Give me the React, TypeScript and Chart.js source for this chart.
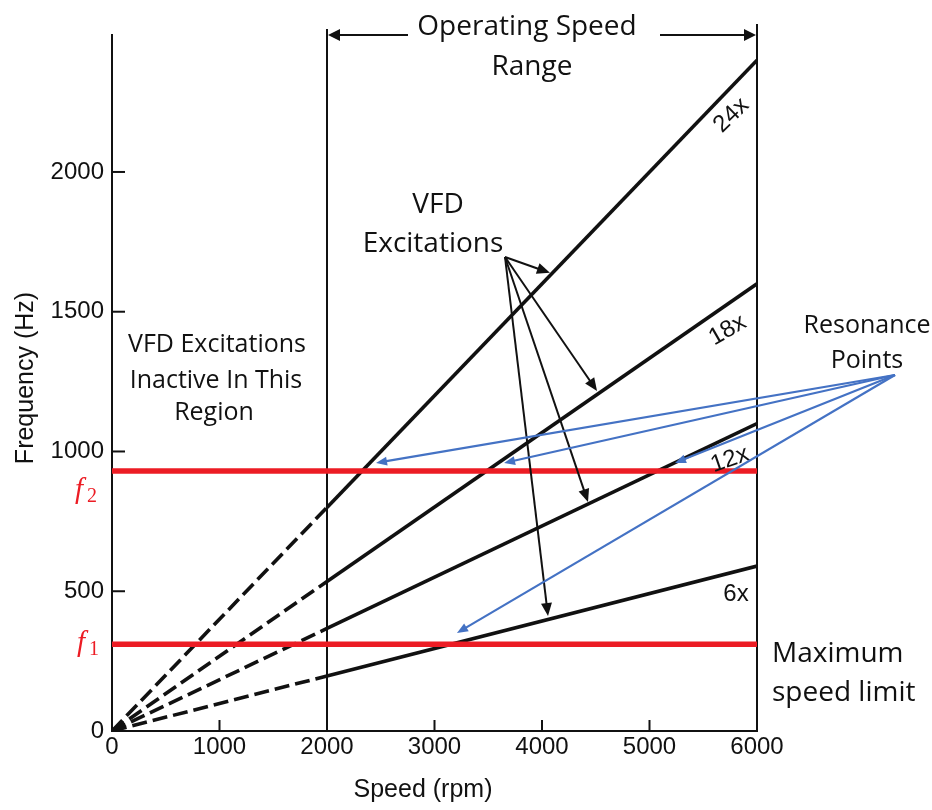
import React, { useEffect, useRef } from 'react';
import { Chart, registerables } from 'chart.js';

Chart.register(...registerables);

// ---- data ----
const speedRpm = [0, 2000, 6000];
const freq24x = [0, 800, 2400];
const freq18x = [0, 535, 1600];
const freq12x = [0, 367, 1100];
const freq6x = [0, 197, 590];
const orderLabels = ['24x', '18x', '12x', '6x'];
const f2Hz = 930;
const f1Hz = 310;
const operatingRange = [2000, 6000];
const xTickValues = [0, 1000, 2000, 3000, 4000, 5000, 6000];
const yTickValues = [0, 500, 1000, 1500, 2000];
// arrow tips (speed rpm, frequency Hz)
const vfdArrowTips = [
  { x: 4074, y: 1639 },
  { x: 4512, y: 1216 },
  { x: 4428, y: 819 },
  { x: 4056, y: 411 },
];
const resonanceArrowTips = [
  { x: 2456, y: 959 },
  { x: 3647, y: 959 },
  { x: 5237, y: 959 },
  { x: 3209, y: 351 },
];

const BLACK = '#111111';
const RED = '#ec1c24';
const BLUE = '#4472c4';
const SCAN_FONT = '"Liberation Sans", Arial, sans-serif';
const NOTE_FONT = '"Open Sans", "Noto Sans", sans-serif';

function toPoints(vals: number[]) {
  return speedRpm.map((x, i) => ({ x, y: vals[i] }));
}

function drawArrow(ctx: CanvasRenderingContext2D, x1: number, y1: number, x2: number, y2: number, color: string, lw: number, hl: number, hw: number) {
  const a = Math.atan2(y2 - y1, x2 - x1);
  const bx = x2 - Math.cos(a) * hl;
  const by = y2 - Math.sin(a) * hl;
  ctx.strokeStyle = color;
  ctx.fillStyle = color;
  ctx.lineWidth = lw;
  ctx.beginPath();
  ctx.moveTo(x1, y1);
  ctx.lineTo(bx + Math.cos(a) * 2, by + Math.sin(a) * 2);
  ctx.stroke();
  ctx.beginPath();
  ctx.moveTo(x2, y2);
  ctx.lineTo(bx - Math.sin(a) * hw, by + Math.cos(a) * hw);
  ctx.lineTo(bx + Math.sin(a) * hw, by - Math.cos(a) * hw);
  ctx.closePath();
  ctx.fill();
}

function text(ctx: CanvasRenderingContext2D, s: string, x: number, y: number, font: string, align: CanvasTextAlign = 'center', color = BLACK, rot = 0) {
  ctx.save();
  ctx.translate(x, y);
  if (rot) ctx.rotate((rot * Math.PI) / 180);
  ctx.font = font;
  ctx.fillStyle = color;
  ctx.textAlign = align;
  ctx.textBaseline = 'alphabetic';
  ctx.fillText(s, 0, 0);
  ctx.restore();
}

const annotationPlugin = {
  id: 'annotations',
  beforeDatasetsDraw(chart: any) {
    const { ctx, chartArea: ca } = chart;
    const x = chart.scales.x;
    const y = chart.scales.y;
    ctx.save();
    ctx.strokeStyle = BLACK;
    ctx.lineWidth = 2;
    const tops = [29, 24];
    operatingRange.forEach((v, i) => {
      const px = x.getPixelForValue(v);
      ctx.beginPath();
      ctx.moveTo(px, ca.bottom);
      ctx.lineTo(px, tops[i]);
      ctx.stroke();
    });
    yTickValues.forEach((v) => {
      if (v === 0) return;
      const py = y.getPixelForValue(v);
      ctx.beginPath();
      ctx.moveTo(ca.left, py);
      ctx.lineTo(ca.left + 13, py);
      ctx.stroke();
    });
    xTickValues.forEach((v) => {
      if (v === 0) return;
      const px = x.getPixelForValue(v);
      ctx.beginPath();
      ctx.moveTo(px, ca.bottom);
      ctx.lineTo(px, ca.bottom - 11);
      ctx.stroke();
    });
    ctx.restore();
  },
  afterDraw(chart: any) {
    const { ctx } = chart;
    const x = chart.scales.x;
    const y = chart.scales.y;
    ctx.save();

    // axis titles
    text(ctx, 'Speed (rpm)', 423, 797, `25px ${SCAN_FONT}`);
    text(ctx, 'Frequency (Hz)', 33, 378, `25px ${SCAN_FONT}`, 'center', BLACK, -90);

    // order labels along the lines
    const labelPos = [
      { px: 736, py: 120, rot: -44 },
      { px: 731, py: 336, rot: -30 },
      { px: 732, py: 466, rot: -19 },
      { px: 736, py: 601, rot: 0 },
    ];
    orderLabels.forEach((l, i) => {
      const p = labelPos[i];
      text(ctx, l, p.px, p.py, `24px ${SCAN_FONT}`, 'center', BLACK, p.rot);
    });

    // operating speed range
    text(ctx, 'Operating Speed', 527, 35, `28px ${NOTE_FONT}`);
    text(ctx, 'Range', 532, 75, `28px ${NOTE_FONT}`);
    const xl = x.getPixelForValue(operatingRange[0]);
    const xr = x.getPixelForValue(operatingRange[1]);
    drawArrow(ctx, 408, 35, xl + 1, 35, BLACK, 2, 12, 6);
    drawArrow(ctx, 660, 35, xr - 1, 35, BLACK, 2, 12, 6);

    // inactive region text
    text(ctx, 'VFD Excitations', 217, 352, `25px ${NOTE_FONT}`);
    text(ctx, 'Inactive In This', 216, 388, `25px ${NOTE_FONT}`);
    text(ctx, 'Region', 214, 420, `25px ${NOTE_FONT}`);

    // VFD excitations
    text(ctx, 'VFD', 438, 213, `28px ${NOTE_FONT}`);
    text(ctx, 'Excitations', 433, 252, `28px ${NOTE_FONT}`);
    vfdArrowTips.forEach((t) => {
      drawArrow(ctx, 505, 257, x.getPixelForValue(t.x), y.getPixelForValue(t.y), BLACK, 2, 13, 5.5);
    });

    // resonance points
    text(ctx, 'Resonance', 867, 333, `25px ${NOTE_FONT}`);
    text(ctx, 'Points', 867, 368, `25px ${NOTE_FONT}`);
    resonanceArrowTips.forEach((t) => {
      drawArrow(ctx, 895, 375, x.getPixelForValue(t.x), y.getPixelForValue(t.y), BLUE, 2.2, 11, 4.5);
    });

    // maximum speed limit
    text(ctx, 'Maximum', 772, 662, `28px ${NOTE_FONT}`, 'left');
    text(ctx, 'speed limit', 772, 701, `28px ${NOTE_FONT}`, 'left');

    // f labels
    const drawF = (sub: string, fx: number, base: number) => {
      text(ctx, 'f', fx, base, `italic 29px "Liberation Serif", "DejaVu Serif", serif`, 'left', RED);
      text(ctx, sub, fx + 12, base + 4, `20px "Liberation Serif", "DejaVu Serif", serif`, 'left', RED);
    };
    drawF('2', 75, y.getPixelForValue(f2Hz) + 27);
    drawF('1', 77, y.getPixelForValue(f1Hz) + 7);

    ctx.restore();
  },
};

export default function App() {
  const canvasRef = useRef<HTMLCanvasElement | null>(null);

  useEffect(() => {
    const canvas = canvasRef.current;
    if (!canvas) return;
    const orderSeries = [freq24x, freq18x, freq12x, freq6x];
    const chart = new Chart(canvas, {
      type: 'line',
      data: {
        datasets: [
          {
            label: 'f2',
            data: [
              { x: 0, y: f2Hz },
              { x: 6000, y: f2Hz },
            ],
            borderColor: RED,
            borderWidth: 5.5,
            borderCapStyle: 'round',
            pointRadius: 0,
          },
          {
            label: 'f1',
            data: [
              { x: 0, y: f1Hz },
              { x: 6000, y: f1Hz },
            ],
            borderColor: RED,
            borderWidth: 5.5,
            borderCapStyle: 'round',
            pointRadius: 0,
          },
          ...orderSeries.map((vals, i) => ({
            label: orderLabels[i],
            data: toPoints(vals),
            borderColor: BLACK,
            borderWidth: 3.6,
            pointRadius: 0,
            tension: 0,
            segment: {
              borderDash: (ctx: any) => (ctx.p1DataIndex === 1 ? [15, 6] : undefined),
            },
          })),
        ],
      },
      options: {
        animation: false,
        responsive: false,
        events: [],
        layout: { padding: { top: 35, right: 175, left: 0, bottom: 0 } },
        plugins: { legend: { display: false }, tooltip: { enabled: false } },
        scales: {
          x: {
            type: 'linear',
            min: 0,
            max: 6000,
            afterBuildTicks: (s: any) => {
              s.ticks = xTickValues.map((v) => ({ value: v }));
            },
            afterFit: (s: any) => {
              s.height = 79;
            },
            ticks: {
              font: { family: SCAN_FONT, size: 24 },
              color: BLACK,
              padding: 2,
              maxRotation: 0,
              autoSkip: false,
              callback: (v: any) => String(v),
            },
            grid: { display: false, drawTicks: false, drawOnChartArea: false },
            border: { display: true, color: BLACK, width: 2 },
          },
          y: {
            type: 'linear',
            min: 0,
            max: 2490,
            afterBuildTicks: (s: any) => {
              s.ticks = yTickValues.map((v) => ({ value: v }));
            },
            afterFit: (s: any) => {
              s.width = 112;
            },
            ticks: {
              font: { family: SCAN_FONT, size: 24 },
              color: BLACK,
              padding: 8,
              autoSkip: false,
              callback: (v: any) => String(v),
            },
            grid: { display: false, drawTicks: false, drawOnChartArea: false },
            border: { display: true, color: BLACK, width: 2 },
          },
        },
      },
      plugins: [annotationPlugin],
    } as any);
    return () => chart.destroy();
  }, []);

  return (
    <div style={{ position: 'fixed', left: 0, top: 0, width: 932, height: 810, background: '#fff' }}>
      <canvas ref={canvasRef} width={932} height={810} style={{ display: 'block', width: 932, height: 810 }} />
    </div>
  );
}
